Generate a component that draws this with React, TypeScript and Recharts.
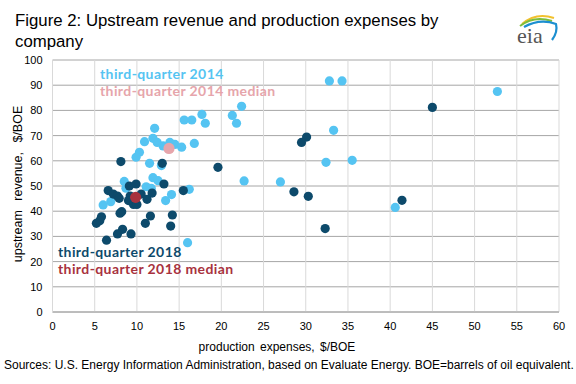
import { ScatterChart, Scatter, XAxis, YAxis, CartesianGrid } from 'recharts';

// [production expenses $/BOE, upstream revenue $/BOE]
const q3_2014: [number, number][] = [
  [52.7, 87.5], [32.8, 91.7], [34.3, 91.7], [22.4, 81.6], [21.3, 78.0], [21.8, 74.9],
  [17.7, 78.4], [18.1, 74.9], [15.6, 76.2], [16.5, 76.2], [12.1, 72.9], [10.9, 67.6],
  [11.9, 68.9], [12.4, 67.3], [13.1, 65.9], [13.9, 67.3], [14.5, 66.5], [15.3, 65.4],
  [16.8, 66.9], [10.3, 63.4], [9.9, 61.4], [11.5, 59.0], [12.9, 58.1], [33.3, 72.1],
  [32.4, 59.4], [35.5, 60.2], [22.7, 52.0], [27.0, 51.6], [8.5, 51.8], [11.9, 53.3],
  [12.5, 52.1], [8.7, 49.1], [11.1, 49.7], [11.7, 49.1], [16.2, 48.7], [14.1, 46.6],
  [13.4, 44.2], [6.9, 43.8], [6.0, 42.5], [40.6, 41.5], [16.0, 27.5],
];
const q3_2018: [number, number][] = [
  [45.0, 81.2], [30.1, 69.4], [29.5, 67.3], [19.6, 57.4], [8.1, 59.7], [13.0, 59.0],
  [28.6, 47.7], [30.3, 45.9], [32.3, 33.1], [41.4, 44.3], [9.1, 50.0], [9.9, 50.8],
  [13.2, 50.8], [6.6, 48.2], [15.5, 48.2], [7.2, 46.8], [7.7, 46.0], [7.9, 45.1],
  [9.2, 46.0], [9.0, 44.2], [10.5, 46.8], [9.6, 42.7], [10.0, 42.7], [11.2, 44.7],
  [11.8, 47.2], [8.2, 39.8], [8.0, 39.2], [5.8, 37.8], [5.6, 36.2], [5.2, 35.2],
  [11.6, 38.1], [11.0, 35.2], [14.2, 38.5], [14.0, 34.1], [8.3, 32.8], [7.7, 31.0],
  [9.3, 31.0], [6.4, 28.5],
];
const median2014: [number, number][] = [[13.8, 64.9]];
const median2018: [number, number][] = [[9.85, 45.5]];

const xTicks = [0, 5, 10, 15, 20, 25, 30, 35, 40, 45, 50, 55, 60];
const yTicks = [0, 10, 20, 30, 40, 50, 60, 70, 80, 90, 100];

const C14 = '#55C4F2';
const C18 = '#0D4A6B';
const CM14 = '#E6A5AB';
const CM18 = '#A8323E';

const toPts = (arr: [number, number][]) => arr.map(([x, y]) => ({ x, y }));

const dot = (r: number, fill: string) => (p: any) => (
  <circle cx={p.cx} cy={p.cy} r={r} fill={fill} />
);

const sans = '"Liberation Sans", Arial, sans-serif';
const legend = (color: string, left: number, top: number) => ({
  position: 'absolute' as const, left, top, height: 16, lineHeight: '16px',
  fontFamily: 'Lato, "Liberation Sans", sans-serif', fontWeight: 700, fontSize: 14,
  letterSpacing: 0.4, color, whiteSpace: 'nowrap' as const,
});

export default function App() {
  return (
    <div style={{ position: 'absolute', left: 0, top: 0, width: 576, height: 384, background: '#fff', fontFamily: sans }}>
      <div style={{ position: 'absolute', left: 15, top: 10, width: 440, fontSize: 16.8, lineHeight: '21px', color: '#000' }}>
        Figure 2: Upstream revenue and production expenses by company
      </div>
      <svg style={{ position: 'absolute', left: 512, top: 10 }} width={52} height={40}>
        <path d="M10 14 Q24 2 42 8" stroke="#F2C12E" strokeWidth={2} fill="none" />
        <path d="M8 16 Q22 5 40 11" stroke="#7DBE3C" strokeWidth={2} fill="none" />
        <path d="M12 17 Q28 8 44 14 Q46 22 40 30" stroke="#1C8FD0" strokeWidth={2.2} fill="none" />
        <text x={5} y={33} fontFamily='"Liberation Serif", serif' fontSize={22} fill="#555">eia</text>
      </svg>

      <div style={{ position: 'absolute', left: 0, top: 0 }}>
        <ScatterChart width={576} height={384} margin={{ top: 60, right: 17, bottom: 0, left: 0 }}>
          <CartesianGrid vertical={false} stroke="#A6A6A6" />
          <CartesianGrid horizontal={false} stroke="#D9D9D9" />
          <XAxis
            type="number" dataKey="x" domain={[0, 60]} ticks={xTicks} interval={0}
            height={72} tickLine={false} axisLine={{ stroke: '#A6A6A6' }}
            tick={{ fontSize: 11, fill: '#000', fontFamily: sans }} tickMargin={4}
          />
          <YAxis
            type="number" dataKey="y" domain={[0, 100]} ticks={yTicks} interval={0}
            width={52.5} tickLine={false} axisLine={{ stroke: '#D9D9D9' }}
            tick={{ fontSize: 11, fill: '#000', fontFamily: sans }} tickMargin={4}
          />
          <Scatter data={toPts(q3_2014)} shape={dot(4.6, C14)} isAnimationActive={false} />
          <Scatter data={toPts(q3_2018)} shape={dot(4.6, C18)} isAnimationActive={false} />
          <Scatter data={toPts(median2014)} shape={dot(5.6, CM14)} isAnimationActive={false} />
          <Scatter data={toPts(median2018)} shape={dot(5.6, CM18)} isAnimationActive={false} />
        </ScatterChart>
      </div>

      <div style={legend(C14, 100, 66)}>third-quarter 2014</div>
      <div style={legend(CM14, 100, 83)}>third-quarter 2014 median</div>
      <div style={legend(C18, 58, 244)}>third-quarter 2018</div>
      <div style={legend(CM18, 58, 261)}>third-quarter 2018 median</div>

      <div style={{ position: 'absolute', left: 18, top: 184, transform: 'translate(-50%, -50%) rotate(-90deg)', fontSize: 12.5, wordSpacing: 6, whiteSpace: 'nowrap', color: '#000' }}>
        upstream revenue, $/BOE
      </div>
      <div style={{ position: 'absolute', left: 277, top: 340, transform: 'translateX(-50%)', fontSize: 12, wordSpacing: 2, whiteSpace: 'nowrap', color: '#000' }}>
        production expenses, $/BOE
      </div>
      <div style={{ position: 'absolute', left: 4, top: 358, fontSize: 12, whiteSpace: 'nowrap', color: '#000' }}>
        Sources: U.S. Energy Information Administration, based on Evaluate Energy. BOE=barrels of oil equivalent.
      </div>
    </div>
  );
}
